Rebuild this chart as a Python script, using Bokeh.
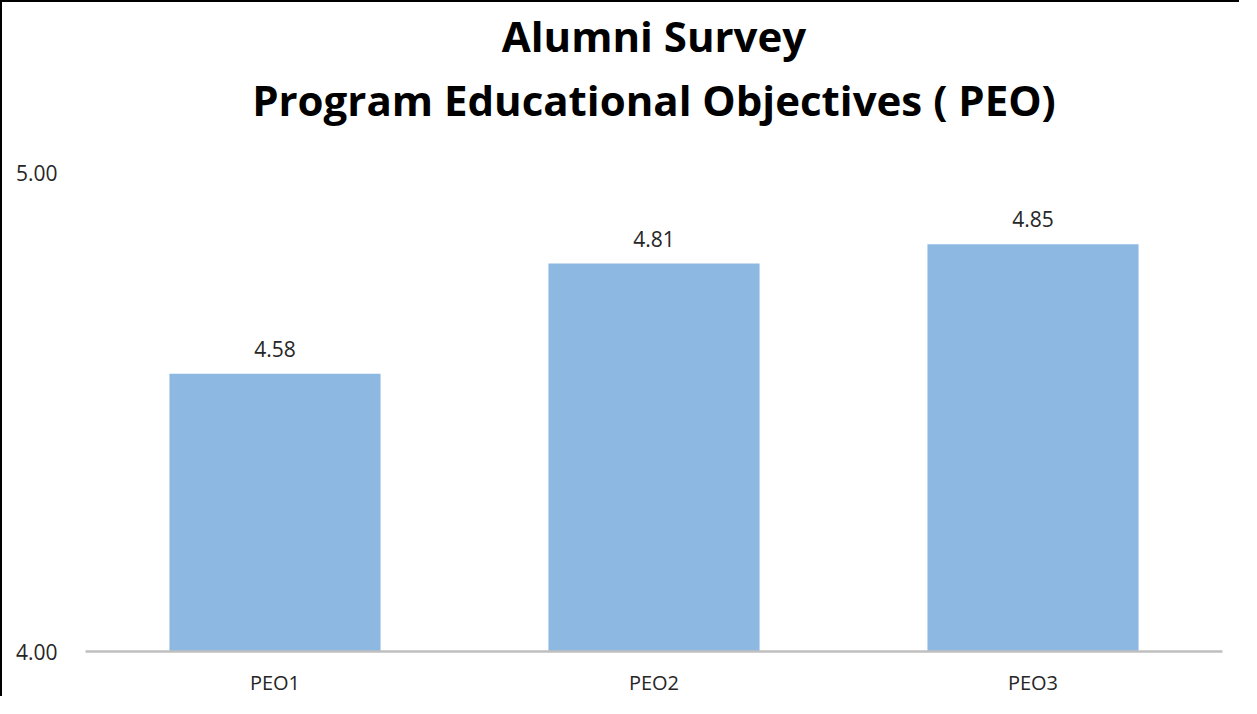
from bokeh.plotting import figure
from bokeh.models import ColumnDataSource, LabelSet, Title, FixedTicker, Range1d, PrintfTickFormatter
from bokeh.core.properties import value
from bokeh.embed import file_html
from bokeh.resources import INLINE

categories = ["PEO1", "PEO2", "PEO3"]
scores = [4.58, 4.81, 4.85]
score_labels = ["4.58", "4.81", "4.85"]
y_ticks = [4.0, 5.0]
title_line1 = "Alumni Survey"
title_line2 = "Program Educational Objectives ( PEO)"

FONT = "Open Sans"

src = ColumnDataSource(dict(cat=categories, score=scores, label=score_labels))

p = figure(x_range=categories, y_range=Range1d(y_ticks[0], y_ticks[-1]),
           width=1239, height=696, output_backend="svg", toolbar_location=None,
           title=title_line1, min_border_left=83, min_border_right=19,
           min_border_bottom=46, min_border_top=0)
p.styles = {"border-left": "2px solid black", "border-top": "2px solid black"}

p.vbar(x="cat", top="score", bottom=y_ticks[0], width=0.557, source=src,
       fill_color="#8DB8E2", line_color=None)

labels = LabelSet(x="cat", y="score", text="label", source=src, y_offset=25,
                  text_align="center", text_baseline="middle",
                  text_font=value(FONT), text_font_size="21px", text_color="#262626")
p.add_layout(labels)

p.title.text_font = FONT
p.title.text_font_size = "42px"
p.title.text_font_style = "bold"
p.title.align = "center"
p.title.text_color = "#000000"
p.title.standoff = 5

spacer = Title(text=" ", align="center", text_font=FONT, text_font_size="30px", standoff=0)
p.add_layout(spacer, "above")

t2 = Title(text=title_line2, align="center", text_font=FONT, text_font_size="42px",
           text_font_style="bold", text_color="#000000", standoff=4)
p.add_layout(t2, "above")

p.yaxis.ticker = FixedTicker(ticks=y_ticks)
p.yaxis.formatter = PrintfTickFormatter(format="%.2f")
p.yaxis.axis_line_color = None
p.yaxis.major_tick_line_color = None
p.yaxis.minor_tick_line_color = None
p.yaxis.major_label_standoff = 22
p.yaxis.major_label_text_font = FONT
p.yaxis.major_label_text_font_size = "21px"
p.yaxis.major_label_text_color = "#262626"

p.xaxis.axis_line_color = "#BFBFBF"
p.xaxis.axis_line_width = 2.5
p.xaxis.major_tick_line_color = None
p.xaxis.minor_tick_line_color = None
p.xaxis.major_label_standoff = 11
p.xaxis.major_label_text_font = FONT
p.xaxis.major_label_text_font_size = "20px"
p.xaxis.major_label_text_color = "#262626"

p.xgrid.grid_line_color = None
p.ygrid.ticker = FixedTicker(ticks=y_ticks)
p.ygrid.grid_line_color = "#E3E3E3"
p.ygrid.grid_line_width = 1
p.outline_line_color = None

open("out.html", "w").write(file_html(p, INLINE))
